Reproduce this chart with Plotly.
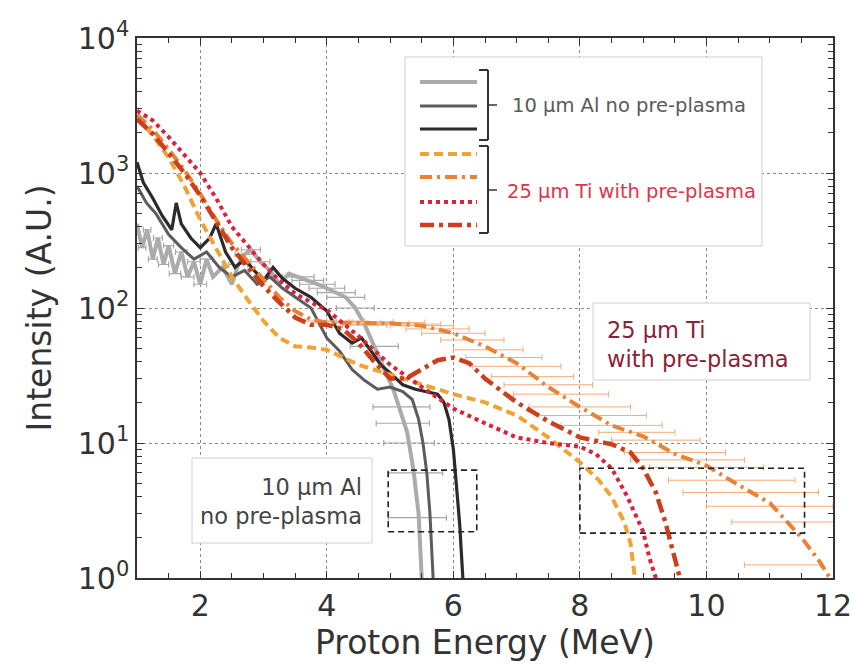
import numpy as np
import plotly.graph_objects as go

# ---------------- data ----------------
# 10 um Al, no pre-plasma (three shots)
al_light_x = [1.0, 1.08, 1.16, 1.25, 1.33, 1.42, 1.5, 1.6, 1.7, 1.8, 1.9, 2.0, 2.1, 2.2, 2.35, 2.5, 2.6, 2.7, 2.8,
              2.95, 3.1, 3.25, 3.4, 3.55, 3.7, 3.85, 4.0, 4.15, 4.3, 4.45, 4.6, 4.75, 4.9, 5.05, 5.15, 5.27, 5.37,
              5.45, 5.5]
al_light_y = [420, 280, 380, 230, 330, 210, 290, 180, 260, 170, 220, 150, 230, 170, 200, 150, 210, 250, 270,
              220, 190, 150, 180, 170, 160, 150, 140, 130, 120, 100, 75, 52, 36, 25, 18, 12, 6.3,
              3.0, 1.0]

al_dark_x = [1.0, 1.15, 1.3, 1.5, 1.7, 1.9, 2.1, 2.3, 2.5, 2.7, 2.9, 3.1, 3.3, 3.5, 3.75, 4.0, 4.2, 4.4, 4.6,
             4.8, 5.0, 5.2, 5.35, 5.45, 5.52, 5.58, 5.63, 5.68]
al_dark_y = [800, 600, 500, 350, 280, 230, 260, 200, 170, 190, 150, 170, 140, 120, 100, 60, 48, 35, 29,
             25, 26, 24, 21, 15, 10, 6, 3, 1.0]

al_black_x = [1.0, 1.1, 1.25, 1.4, 1.55, 1.62, 1.7, 1.85, 2.0, 2.15, 2.25, 2.4, 2.55, 2.7, 2.85, 3.0, 3.15, 3.3,
              3.5, 3.75, 4.0, 4.2, 4.4, 4.55, 4.7, 4.85, 5.0, 5.2, 5.4, 5.6, 5.75, 5.85, 5.93, 6.0, 6.05, 6.1,
              6.15]
al_black_y = [1200, 850, 650, 480, 380, 600, 420, 330, 280, 330, 420, 260, 200, 230, 190, 160, 200, 165,
              140, 120, 95, 65, 55, 60, 48, 38, 33, 27, 25, 24, 23, 20, 15, 9, 5, 2.5,
              1.0]

# horizontal error bars of the Al spectra
al_err_x = [1.08, 1.16, 1.25, 1.33, 1.42, 1.5, 1.6, 1.7, 1.8, 1.9, 2.0, 2.1, 2.6, 2.7, 2.8, 2.95, 3.55, 3.7,
            3.85, 4.0, 4.15, 4.3, 4.45, 4.6, 4.75, 5.18, 5.2, 5.3, 5.4, 5.43]
al_err_y = [280, 380, 230, 330, 210, 290, 180, 260, 170, 220, 150, 230, 210, 250, 270, 220, 170, 160,
            150, 140, 130, 120, 100, 75, 52, 18.5, 14, 10, 6, 2.8]
al_err_dx = [0.06, 0.06, 0.07, 0.07, 0.08, 0.08, 0.09, 0.09, 0.1, 0.1, 0.1, 0.1, 0.15, 0.15, 0.15, 0.15, 0.25,
             0.25, 0.28, 0.28, 0.3, 0.3, 0.3, 0.35, 0.38, 0.45, 0.42, 0.4, 0.43, 0.46]

# 25 um Ti, with pre-plasma (four shots)
ti1_x = [1.0, 1.25, 1.5, 1.75, 2.0, 2.25, 2.5, 2.75, 3.0, 3.25, 3.5, 3.75, 4.0, 4.5, 5.0, 5.5, 6.0, 6.5, 7.0,
         7.5, 8.0, 8.3, 8.5, 8.7, 8.8, 8.87]
ti1_y = [2600, 1900, 1300, 800, 450, 280, 170, 115, 80, 60, 52, 51, 49, 38, 32, 27, 23, 20, 16,
         11, 7.2, 5.3, 4.0, 2.6, 1.8, 1.0]

ti2_x = [1.0, 1.25, 1.5, 1.75, 2.0, 2.25, 2.5, 2.75, 3.0, 3.25, 3.5, 3.75, 4.0, 4.5, 5.0, 5.5, 6.0, 6.5, 7.0,
         7.5, 8.0, 8.5, 9.0, 9.5, 10.0, 10.5, 11.0, 11.5, 11.8, 11.95]
ti2_y = [2700, 2100, 1500, 1050, 700, 450, 300, 220, 160, 120, 95, 82, 78, 78, 77, 74, 65, 52, 39,
         26, 18.5, 13.5, 11.2, 8.3, 6.8, 4.9, 3.6, 2.0, 1.3, 1.0]

ti3_x = [1.0, 1.25, 1.5, 1.75, 2.0, 2.25, 2.5, 2.75, 3.0, 3.25, 3.5, 3.75, 4.0, 4.5, 5.0, 5.5, 6.0, 6.5, 7.0,
         7.5, 8.0, 8.25, 8.5, 8.75, 9.0, 9.1, 9.2]
ti3_y = [2900, 2450, 1850, 1350, 1000, 650, 400, 290, 210, 160, 128, 110, 97, 62, 38, 26, 18, 14, 11,
         10, 9.4, 8.3, 6.5, 4.0, 2.2, 1.4, 1.0]

ti4_x = [1.0, 1.25, 1.5, 1.75, 2.0, 2.25, 2.5, 2.75, 3.0, 3.25, 3.5, 3.75, 4.0, 4.25, 4.5, 4.75, 5.0, 5.25,
         5.5, 5.75, 6.0, 6.25, 6.5, 7.0, 7.5, 8.0, 8.5, 8.8, 9.0, 9.2, 9.35, 9.5, 9.58]
ti4_y = [2500, 1950, 1400, 1000, 680, 430, 280, 200, 145, 110, 85, 75, 75, 70, 55, 40, 30, 30,
         35, 41, 43, 39, 30, 20, 14.5, 11, 9.8, 8.5, 6.5, 4.3, 2.6, 1.4, 1.0]

# horizontal error bars of the Ti spectrum reaching 12 MeV
ti_err_x = [3.9, 4.1, 4.3, 4.5, 4.7, 4.9, 5.1, 5.3, 5.5, 5.75, 6.0, 6.3, 6.55, 6.8, 7.0, 7.25, 7.5, 7.7, 8.0,
            8.2, 8.5, 8.9, 9.2, 9.5, 9.7, 10.0, 10.4, 10.7, 11.0, 11.3, 11.2]
ti_err_y = [80, 79, 80, 78, 79, 77, 78, 76, 74, 70, 65, 58, 49, 43, 37, 31, 27, 23, 18.5,
            16, 13.5, 12, 10.5, 8.5, 7.5, 6.6, 5.3, 4.3, 3.4, 2.6, 1.25]
ti_err_dx = [0.25, 0.3, 0.3, 0.35, 0.35, 0.4, 0.45, 0.5, 0.5, 0.5, 0.5, 0.5, 0.55, 0.6, 0.7, 0.65, 0.7, 0.75,
             0.8, 0.85, 0.8, 0.6, 0.7, 0.8, 0.9, 0.9, 1.0, 1.07, 1.0, 0.9, 0.6]

# dashed cut-off boxes: [x0, x1, y0, y1]
al_box = [4.97, 6.37, 2.2, 6.3]
ti_box = [8.0, 11.55, 2.15, 6.5]

x_ticks = [2, 4, 6, 8, 10, 12]
y_ticks = [1, 10, 100, 1000, 10000]
y_tick_text = ["10<sup>0</sup>", "10<sup>1</sup>", "10<sup>2</sup>", "10<sup>3</sup>", "10<sup>4</sup>"]

al_label = "10 µm Al no pre-plasma"
ti_label = "25 µm Ti with pre-plasma"
al_note = "10 µm Al<br>no pre-plasma"
ti_note = "25 µm Ti<br>with pre-plasma"

# ---------------- styles ----------------
FONT = "DejaVu Sans"
W, H = 853, 665
L, R, T, B = 137, 20, 38, 87
PW, PH = W - L - R, H - T - B


def px(xp):
    return (xp - L) / PW


def py(yp):
    return (H - B - yp) / PH


styles = {
    "al_light": dict(color="#ababab", width=4, dash="solid"),
    "al_dark": dict(color="#5c5c5c", width=3, dash="solid"),
    "al_black": dict(color="#2b2b2b", width=3.2, dash="solid"),
    "ti1": dict(color="#f0a232", width=4, dash="9px,5px"),
    "ti2": dict(color="#ea8236", width=4, dash="12px,5px,3px,5px"),
    "ti3": dict(color="#e0203a", width=4, dash="dot"),
    "ti4": dict(color="#cc3e1c", width=4.5, dash="14px,5px,4px,5px"),
}

fig = go.Figure()

fig.add_trace(go.Scatter(x=al_err_x, y=al_err_y, mode="markers",
                         marker=dict(size=1, color="rgba(0,0,0,0)"),
                         error_x=dict(type="data", array=al_err_dx, color="#a8a8a8", thickness=1.2, width=3),
                         hoverinfo="skip", showlegend=False))
for key, xs, ys in [("al_light", al_light_x, al_light_y), ("al_dark", al_dark_x, al_dark_y),
                    ("al_black", al_black_x, al_black_y)]:
    fig.add_trace(go.Scatter(x=xs, y=ys, mode="lines", line=styles[key], showlegend=False))

fig.add_trace(go.Scatter(x=ti_err_x, y=ti_err_y, mode="markers",
                         marker=dict(size=1, color="rgba(0,0,0,0)"),
                         error_x=dict(type="data", array=ti_err_dx, color="#f4ab78", thickness=1, width=3),
                         hoverinfo="skip", showlegend=False))
for key, xs, ys in [("ti1", ti1_x, ti1_y), ("ti2", ti2_x, ti2_y), ("ti3", ti3_x, ti3_y), ("ti4", ti4_x, ti4_y)]:
    fig.add_trace(go.Scatter(x=xs, y=ys, mode="lines", line=styles[key], showlegend=False))

# dashed cut-off boxes, drawn in data coordinates
for bx in (al_box, ti_box):
    fig.add_trace(go.Scatter(x=[bx[0], bx[1], bx[1], bx[0], bx[0]], y=[bx[2], bx[2], bx[3], bx[3], bx[2]],
                             mode="lines", line=dict(color="#222", width=1.6, dash="6px,4px"),
                             hoverinfo="skip", showlegend=False))

shapes = []
# legend box
shapes.append(dict(type="rect", xref="paper", yref="paper", x0=px(405), x1=px(762), y0=py(246), y1=py(57),
                   line=dict(color="#cfcfcf", width=1), fillcolor="white", layer="above"))
legend_rows = [("al_light", 82), ("al_dark", 106), ("al_black", 129),
               ("ti1", 154), ("ti2", 177), ("ti3", 202), ("ti4", 225)]
for key, yy in legend_rows:
    st = dict(styles[key])
    shapes.append(dict(type="line", xref="paper", yref="paper", x0=px(420), x1=px(477), y0=py(yy), y1=py(yy),
                       line=st, layer="above"))
# brackets
br_col = "#333"
for top, bot, mid in [(70, 140, 105), (146, 233, 190)]:
    shapes.append(dict(type="line", xref="paper", yref="paper", x0=px(488), x1=px(488), y0=py(top), y1=py(bot),
                       line=dict(color=br_col, width=2), layer="above"))
    for yy in (top, bot):
        shapes.append(dict(type="line", xref="paper", yref="paper", x0=px(479), x1=px(488), y0=py(yy), y1=py(yy),
                           line=dict(color=br_col, width=2), layer="above"))
    shapes.append(dict(type="line", xref="paper", yref="paper", x0=px(488), x1=px(497), y0=py(mid), y1=py(mid),
                       line=dict(color=br_col, width=1.5), layer="above"))

# annotation boxes
shapes.append(dict(type="rect", xref="paper", yref="paper", x0=px(593), x1=px(810), y0=py(380), y1=py(303),
                   line=dict(color="#d0d0d0", width=1), fillcolor="white", layer="above"))
shapes.append(dict(type="rect", xref="paper", yref="paper", x0=px(192), x1=px(372), y0=py(543), y1=py(458),
                   line=dict(color="#d0d0d0", width=1), fillcolor="white", layer="above"))

annotations = [
    dict(text=al_label, xref="paper", yref="paper", x=px(510), y=py(106), xanchor="left", yanchor="middle",
         showarrow=False, font=dict(family=FONT, size=19.5, color="#5a5a5a")),
    dict(text=ti_label, xref="paper", yref="paper", x=px(505), y=py(191), xanchor="left", yanchor="middle",
         showarrow=False, font=dict(family=FONT, size=19.5, color="#e0344c")),
    dict(text=ti_note, xref="paper", yref="paper", x=px(605), y=py(344), xanchor="left", yanchor="middle",
         align="left", showarrow=False, font=dict(family=FONT, size=22.5, color="#8a2236")),
    dict(text=al_note, xref="paper", yref="paper", x=px(364), y=py(501), xanchor="right", yanchor="middle",
         align="right", showarrow=False, font=dict(family=FONT, size=22.5, color="#444444")),
]

x_minor = [v / 2 for v in range(2, 24) if v % 4 != 0]
y_minor = [m * 10 ** d for d in range(0, 4) for m in range(2, 10)]

fig.update_layout(
    width=W, height=H,
    margin=dict(l=L, r=R, t=T, b=B, autoexpand=False),
    paper_bgcolor="white", plot_bgcolor="white",
    font=dict(family=FONT, color="#333333"),
    showlegend=False,
    shapes=shapes,
    annotations=annotations,
    xaxis=dict(
        range=[1, 12], tickmode="array", tickvals=x_ticks, ticks="inside", ticklen=7, tickwidth=1,
        tickcolor="#333", showline=True, linecolor="#333", linewidth=1.5, mirror="allticks",
        showgrid=True, gridcolor="#8a8a8a", griddash="dot", gridwidth=1, zeroline=False,
        tickfont=dict(family=FONT, size=30, color="#333"),
        minor=dict(tickmode="array", tickvals=x_minor, ticks="inside", ticklen=5, tickcolor="#333",
                   showgrid=False),
        title=dict(text="Proton Energy (MeV)", font=dict(family=FONT, size=33, color="#333"), standoff=4),
        automargin=False,
    ),
    yaxis=dict(
        type="log", range=[0, 4], tickmode="array", tickvals=y_ticks, ticktext=y_tick_text,
        ticks="inside", ticklen=7, tickwidth=1, tickcolor="#333",
        showline=True, linecolor="#333", linewidth=1.5, mirror="allticks",
        showgrid=True, gridcolor="#8a8a8a", griddash="dot", gridwidth=1, zeroline=False,
        tickfont=dict(family=FONT, size=30, color="#333"),
        minor=dict(tickmode="array", tickvals=y_minor, ticks="inside", ticklen=5, tickcolor="#333",
                   showgrid=False),
        title=dict(text="Intensity (A.U.)", font=dict(family=FONT, size=33, color="#333"), standoff=16),
        automargin=False,
    ),
)

fig.write_html("out.html")
